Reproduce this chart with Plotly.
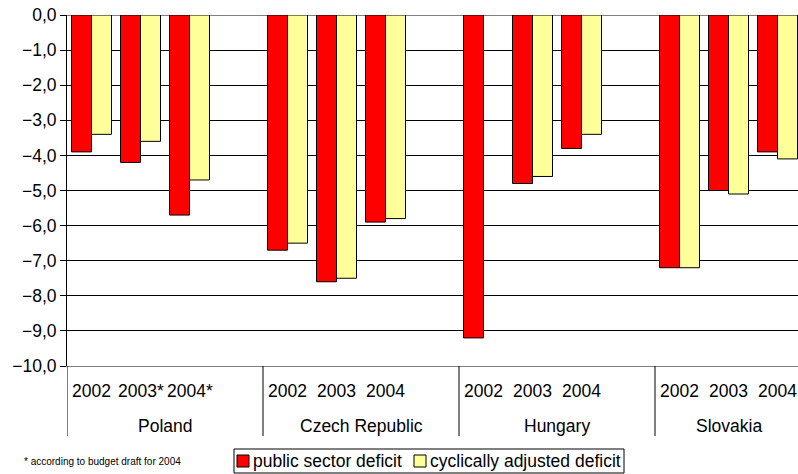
import plotly.graph_objects as go

countries = ["Poland", "Czech Republic", "Hungary", "Slovakia"]
years = [["2002", "2003*", "2004*"],
         ["2002", "2003", "2004"],
         ["2002", "2003", "2004"],
         ["2002", "2003", "2004"]]
public_sector = [[-3.9, -4.2, -5.7],
                 [-6.7, -7.6, -5.9],
                 [-9.2, -4.8, -3.8],
                 [-7.2, -5.0, -3.9]]
cyclically_adj = [[-3.4, -3.6, -4.7],
                  [-6.5, -7.5, -5.8],
                  [None, -4.6, -3.4],
                  [-7.2, -5.1, -4.1]]
y_ticks = [0, -1, -2, -3, -4, -5, -6, -7, -8, -9, -10]
series_names = ["public sector deficit", "cyclically adjusted deficit"]
series_colors = ["#FF0000", "#FFFF99"]

FONT = "Liberation Sans, Arial, sans-serif"
FS = 17.5
SLOTS = 4  # three years + one empty slot per country group
X_MAX = 14.418  # visible right edge of the plot area
PLOT_W, PLOT_H, L, T = 731, 351, 67, 15

def px_x(p):
    return (p - L) / PLOT_W

def px_y(p):
    return 1 - (p - T) / PLOT_H

xs, red_vals, yel_vals, year_labels = [], [], [], []
for g, c in enumerate(countries):
    for i, yr in enumerate(years[g]):
        xs.append(g * SLOTS + i)
        red_vals.append(public_sector[g][i])
        yel_vals.append(cyclically_adj[g][i])
        year_labels.append(yr)

fig = go.Figure()
for vals, name, col in zip([red_vals, yel_vals], series_names, series_colors):
    fig.add_trace(go.Bar(x=xs, y=vals, name=name, showlegend=False,
                         marker=dict(color=col, line=dict(color="black", width=1))))

annotations = []
for x, lab in zip(xs, year_labels):
    annotations.append(dict(x=x, xref="x", y=0, yref="paper", yshift=-25,
                            text=lab, showarrow=False, xanchor="center", yanchor="middle",
                            font=dict(family=FONT, size=FS, color="black")))
shapes = []
for g, c in enumerate(countries):
    start = g * SLOTS - 0.5
    if g == len(countries) - 1:
        end = start + len(years[g])
    else:
        end = start + SLOTS
    annotations.append(dict(x=(start + end) / 2, xref="x", y=0, yref="paper", yshift=-60,
                            text=c, showarrow=False, xanchor="center", yanchor="middle",
                            font=dict(family=FONT, size=FS, color="black")))
    shapes.append(dict(type="line", xref="x", yref="paper", x0=start, x1=start,
                       y0=0, y1=-70 / PLOT_H, line=dict(color="black", width=1)))

annotations.append(dict(x=px_x(22), xref="paper", y=px_y(462), yref="paper",
                        text="* according to budget draft for 2004", showarrow=False,
                        xanchor="left", yanchor="middle",
                        font=dict(family=FONT, size=10, color="black")))

# legend box
shapes.append(dict(type="rect", xref="paper", yref="paper",
                   x0=px_x(234), x1=px_x(624), y0=px_y(449), y1=px_y(473),
                   line=dict(color="black", width=1), fillcolor="white"))
leg_sq = [237, 414]
leg_tx = [251, 428]
for sx, tx, name, col in zip(leg_sq, leg_tx, series_names, series_colors):
    shapes.append(dict(type="rect", xref="paper", yref="paper",
                       x0=px_x(sx), x1=px_x(sx + 12), y0=px_y(455), y1=px_y(467),
                       line=dict(color="black", width=1), fillcolor=col))
    annotations.append(dict(x=px_x(tx), xref="paper", y=px_y(461), yref="paper",
                            text=name, showarrow=False, xanchor="left", yanchor="middle",
                            font=dict(family=FONT, size=FS, color="black")))

fig.update_layout(
    width=798, height=474,
    margin=dict(l=L, r=0, t=T, b=474 - T - PLOT_H, autoexpand=False),
    paper_bgcolor="white", plot_bgcolor="white",
    separators=", ",
    barmode="group", bargap=9 / 49, bargroupgap=0,
    font=dict(family=FONT, size=FS, color="black"),
    xaxis=dict(range=[-0.5, X_MAX], showticklabels=False, showgrid=False,
               zeroline=False, showline=True, linecolor="#808080", linewidth=1,
               ticks=""),
    yaxis=dict(range=[-10, 0], tickvals=y_ticks, tickformat=".1f",
               showgrid=True, gridcolor="black", gridwidth=1,
               zeroline=True, zerolinecolor="#808080", zerolinewidth=1,
               showline=True, linecolor="black", linewidth=1,
               ticks="outside", ticklen=6, tickcolor="black",
               tickfont=dict(family=FONT, size=FS, color="black")),
    showlegend=False,
    annotations=annotations,
    shapes=shapes,
)

fig.write_html("out.html")
